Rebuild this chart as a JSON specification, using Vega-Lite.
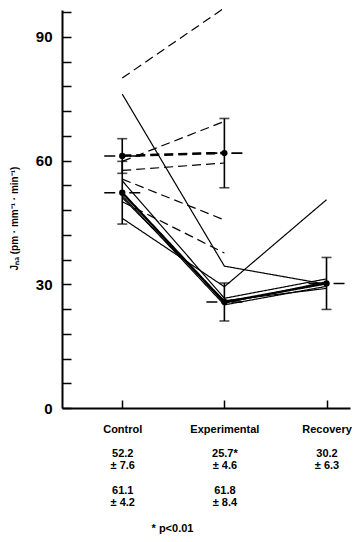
{
  "$schema": "https://vega.github.io/schema/vega-lite/v6.json",
  "width": 288,
  "height": 398,
  "autosize": {"type": "none"},
  "padding": {"left": 62, "top": 10, "right": 14, "bottom": 134},
  "config": {
    "view": {"stroke": null},
    "font": "Liberation Sans",
    "axis": {
      "domainColor": "black",
      "tickColor": "black",
      "labelColor": "black",
      "titleColor": "black",
      "grid": false,
      "domainWidth": 2,
      "tickWidth": 1.5,
      "labelOverlap": false
    }
  },
  "datasets": {
    "subjects": [
      {"id": "d1", "grp": "dashed", "t": 1, "phase": "Control", "v": 80},
      {"id": "d1", "grp": "dashed", "t": 2, "phase": "Experimental", "v": 97},
      {"id": "d2", "grp": "dashed", "t": 1, "phase": "Control", "v": 59.8},
      {"id": "d2", "grp": "dashed", "t": 2, "phase": "Experimental", "v": 69.5},
      {"id": "d3", "grp": "dashed", "t": 1, "phase": "Control", "v": 61.3},
      {"id": "d3", "grp": "dashed", "t": 2, "phase": "Experimental", "v": 62},
      {"id": "d4", "grp": "dashed", "t": 1, "phase": "Control", "v": 57.6},
      {"id": "d4", "grp": "dashed", "t": 2, "phase": "Experimental", "v": 59.4},
      {"id": "d5", "grp": "dashed", "t": 1, "phase": "Control", "v": 55.5},
      {"id": "d5", "grp": "dashed", "t": 2, "phase": "Experimental", "v": 45.6},
      {"id": "d6", "grp": "dashed", "t": 1, "phase": "Control", "v": 50},
      {"id": "d6", "grp": "dashed", "t": 2, "phase": "Experimental", "v": 37.6},
      {"id": "s1", "grp": "solid", "t": 1, "phase": "Control", "v": 76.1},
      {"id": "s1", "grp": "solid", "t": 2, "phase": "Experimental", "v": 34.4},
      {"id": "s1", "grp": "solid", "t": 3, "phase": "Recovery", "v": 30.0},
      {"id": "s2", "grp": "solid", "t": 1, "phase": "Control", "v": 46},
      {"id": "s2", "grp": "solid", "t": 2, "phase": "Experimental", "v": 29.4},
      {"id": "s2", "grp": "solid", "t": 3, "phase": "Recovery", "v": 50.5},
      {"id": "s3", "grp": "solid", "t": 1, "phase": "Control", "v": 55.1},
      {"id": "s3", "grp": "solid", "t": 2, "phase": "Experimental", "v": 26.6},
      {"id": "s3", "grp": "solid", "t": 3, "phase": "Recovery", "v": 31.3},
      {"id": "s4", "grp": "solid", "t": 1, "phase": "Control", "v": 52.3},
      {"id": "s4", "grp": "solid", "t": 2, "phase": "Experimental", "v": 25.4},
      {"id": "s4", "grp": "solid", "t": 3, "phase": "Recovery", "v": 30.6},
      {"id": "s5", "grp": "solid", "t": 1, "phase": "Control", "v": 51.5},
      {"id": "s5", "grp": "solid", "t": 2, "phase": "Experimental", "v": 25.0},
      {"id": "s5", "grp": "solid", "t": 3, "phase": "Recovery", "v": 29.5},
      {"id": "s6", "grp": "solid", "t": 1, "phase": "Control", "v": 51.0},
      {"id": "s6", "grp": "solid", "t": 2, "phase": "Experimental", "v": 26.0},
      {"id": "s6", "grp": "solid", "t": 3, "phase": "Recovery", "v": 29.0}
    ],
    "means": [
      {"grp": "solid", "t": 1, "phase": "Control", "v": 52.2, "err": 7.6},
      {"grp": "solid", "t": 2, "phase": "Experimental", "v": 25.7, "err": 4.6},
      {"grp": "solid", "t": 3, "phase": "Recovery", "v": 30.2, "err": 6.3},
      {"grp": "dashed", "t": 1, "phase": "Control", "v": 61.1, "err": 4.2},
      {"grp": "dashed", "t": 2, "phase": "Experimental", "v": 61.8, "err": 8.4}
    ]
  },
  "encoding": {
    "x": {
      "field": "t",
      "type": "quantitative",
      "scale": {"domain": [0.41, 3.23], "nice": false, "zero": false},
      "axis": {
        "values": [1, 2, 3],
        "tickSize": -8,
        "labelPadding": 23,
        "labelBaseline": "top",
        "labelFont": "Liberation Sans",
        "labelFontWeight": "bold",
        "labelFontSize": 11,
        "labelLineHeight": 12.2,
        "labelExpr": "datum.value == 1 ? ['Control', '\u200b', '52.2', '± 7.6', '\u200b', '61.1', '± 4.2'] : datum.value == 2 ? ['Experimental', '\u200b', '25.7*', '± 4.6', '\u200b', '61.8', '± 8.4'] : ['Recovery', '\u200b', '30.2', '± 6.3']",
        "title": "* p<0.01",
        "titleFont": "Liberation Sans",
        "titleFontWeight": "bold",
        "titleFontSize": 11,
        "titleX": 110,
        "titleY": 120,
        "titleAlign": "center",
        "titleBaseline": "middle"
      }
    },
    "y": {
      "field": "v",
      "type": "quantitative",
      "title": "Jₙₐ (pm · mm⁻¹ · min⁻¹)",
      "scale": {"domain": [0, 96.5], "nice": false},
      "axis": {
        "values": [0, 6, 12, 18, 24, 30, 36, 42, 48, 54, 60, 66, 72, 78, 84, 90, 96],
        "labelExpr": "(datum.value == 0 || datum.value == 30 || datum.value == 60 || datum.value == 90) ? datum.label : ''",
        "tickSize": -9,
        "labelPadding": 19,
        "labelFont": "Liberation Sans",
        "labelFontWeight": "bold",
        "labelFontSize": 15,
        "titleFont": "Liberation Sans",
        "titleFontWeight": "bold",
        "titleFontSize": 10,
        "titleX": -48,
        "titleY": 208,
        "titleAngle": -90,
        "titleAlign": "center",
        "titleBaseline": "middle"
      }
    }
  },
  "layer": [
    {
      "data": {"name": "subjects"},
      "mark": {"type": "line", "color": "black", "strokeWidth": 1.2},
      "encoding": {
        "detail": {"field": "id"},
        "strokeDash": {
          "field": "grp",
          "type": "nominal",
          "scale": {"domain": ["solid", "dashed"], "range": [[1, 0], [9, 5]]},
          "legend": null
        }
      }
    },
    {
      "data": {"name": "means"},
      "mark": {"type": "line", "color": "black", "strokeWidth": 2.2},
      "encoding": {
        "detail": {"field": "grp"},
        "strokeDash": {
          "field": "grp",
          "type": "nominal",
          "scale": {"domain": ["solid", "dashed"], "range": [[1, 0], [9, 5]]},
          "legend": null
        }
      }
    },
    {
      "data": {"name": "means"},
      "mark": {"type": "errorbar", "ticks": true, "size": 10, "thickness": 1.6, "color": "black"},
      "encoding": {
        "yError": {"field": "err"}
      }
    },
    {
      "data": {"name": "means"},
      "mark": {"type": "rule", "color": "black", "strokeWidth": 1.6, "xOffset": -18, "x2Offset": 18, "strokeDash": [11, 14]},
      "encoding": {
        "x2": {"field": "t"}
      }
    },
    {
      "data": {"name": "means"},
      "mark": {"type": "point", "filled": true, "color": "black", "size": 40, "opacity": 1},
      "encoding": {}
    }
  ]
}
